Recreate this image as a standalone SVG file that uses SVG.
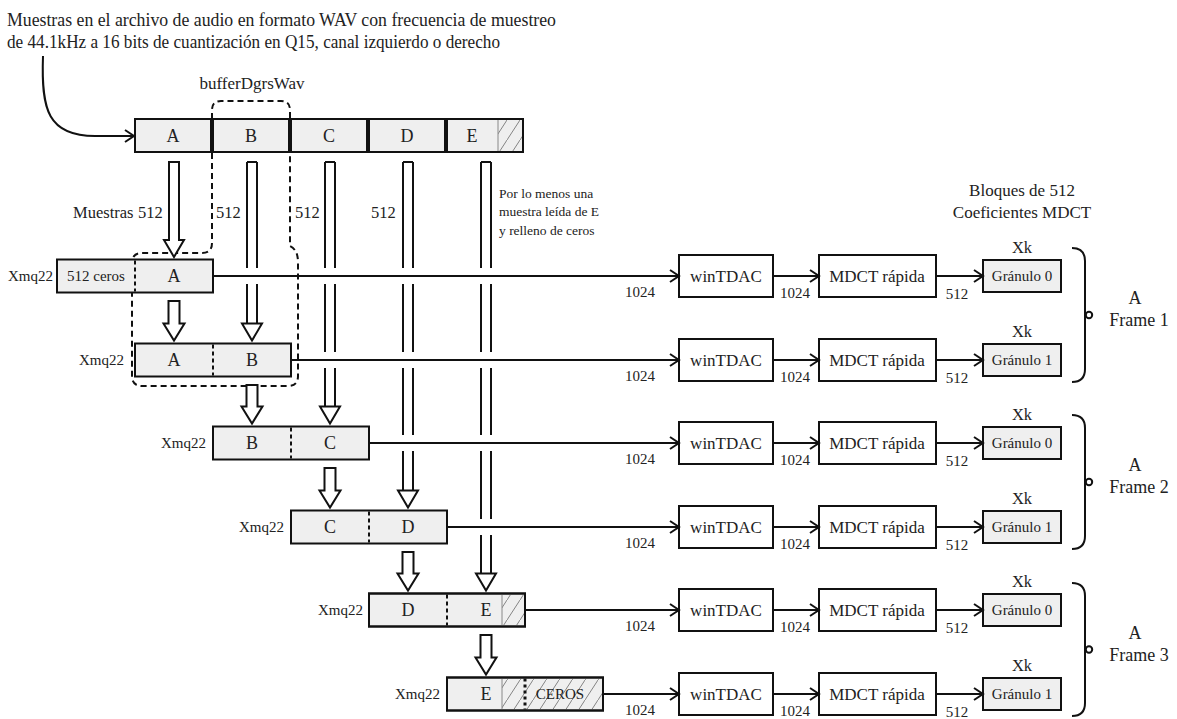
<svg xmlns="http://www.w3.org/2000/svg" width="1177" height="719" viewBox="0 0 1177 719">
<defs>
<marker id="chev" markerWidth="12" markerHeight="14" refX="10" refY="7" orient="auto" markerUnits="userSpaceOnUse">
<path d="M1,1 L10,7 L1,13" fill="none" stroke="#111" stroke-width="2"/>
</marker>
<pattern id="hatch" patternUnits="userSpaceOnUse" width="13" height="20">
<line x1="0" y1="20" x2="13" y2="0" stroke="#777" stroke-width="0.9"/>
</pattern>
<style>
text{font-family:"Liberation Serif","Times New Roman",serif;fill:#222}
.box{fill:#efefef;stroke:#111;stroke-width:2}
.wbox{fill:#fff;stroke:#111;stroke-width:2}
.hz{fill:url(#hatch);stroke:none}
.hl{stroke:#888;stroke-width:1}
.div{stroke:#111;stroke-width:2;stroke-dasharray:4 3}
.divb{stroke:#111;stroke-width:3;stroke-dasharray:3 3}
.ln{fill:none;stroke:#111;stroke-width:2}
.conn{fill:none;stroke:#111;stroke-width:2;marker-end:url(#chev)}
.hol{fill:#fff;stroke:#111;stroke-width:2}
.stem{fill:none;stroke:#111;stroke-width:2}
.dash{fill:none;stroke:#111;stroke-width:2;stroke-dasharray:6 4}
.c{text-anchor:middle}
.e{text-anchor:end}
.f18{font-size:18px}
.f17{font-size:17px}
.f16{font-size:16.5px}
.f15{font-size:15px}
.f13{font-size:13.5px}
</style>
</defs>

<g id="title">
<text x="7" y="26" class="f18" textLength="549" lengthAdjust="spacingAndGlyphs">Muestras en el archivo de audio en formato WAV con frecuencia de muestreo</text>
<text x="7" y="48" class="f18" textLength="493" lengthAdjust="spacingAndGlyphs">de 44.1kHz a 16 bits de cuantización en Q15, canal izquierdo o derecho</text>
</g>

<g id="buffer-window">
<text x="252" y="89" class="f17 c">bufferDgrsWav</text>
<path class="dash" d="M212 119 V110 Q212 101 221 101 H281 Q290 101 290 110 V119"/>
<path class="dash" d="M212 153 V243 Q212 253 202 253 H142 Q132 253 132 263 V376 Q132 386 142 386 H288 Q298 386 298 376 V262 Q298 250 290 246 V153"/>
</g>

<g id="labels-512">
<text x="73" y="218" class="f16">Muestras</text>
<text x="138" y="218" class="f16">512</text>
<text x="216" y="218" class="f16">512</text>
<text x="295" y="218" class="f16">512</text>
<text x="371" y="218" class="f16">512</text>
<text x="499" y="198" class="f13">Por lo menos una</text>
<text x="499" y="216" class="f13">muestra leída de E</text>
<text x="499" y="235" class="f13">y relleno de ceros</text>
</g>

<g id="wav-A"><rect class="box" x="135" y="119" width="76" height="33"/><text x="173" y="142" class="f18 c">A</text></g>
<g id="wav-B"><rect class="box" x="213" y="119" width="76" height="33"/><text x="251" y="142" class="f18 c">B</text></g>
<g id="wav-C"><rect class="box" x="291" y="119" width="76" height="33"/><text x="329" y="142" class="f18 c">C</text></g>
<g id="wav-D"><rect class="box" x="369" y="119" width="76" height="33"/><text x="407" y="142" class="f18 c">D</text></g>
<g id="wav-E"><rect class="box" x="447" y="119" width="76" height="33"/><rect class="hz" x="498" y="120" width="24" height="31"/><line class="hl" x1="498" y1="120" x2="498" y2="151"/><rect x="447" y="119" width="76" height="33" fill="none" stroke="#111" stroke-width="2"/><text x="472" y="142" class="f18 c">E</text></g>

<g id="xmq-1">
<text x="53" y="281" class="f15 e">Xmq22</text>
<rect class="box" x="57" y="259.5" width="156" height="33"/>
<line class="div" x1="135" y1="260.5" x2="135" y2="291.5"/>
<text x="96" y="281" class="f15 c">512 ceros</text>
<text x="174" y="282" class="f18 c">A</text>
</g>
<g id="xmq-2">
<text x="124" y="365" class="f15 e">Xmq22</text>
<rect class="box" x="135" y="343.5" width="156" height="33"/>
<line class="div" x1="213" y1="344.5" x2="213" y2="375.5"/>
<text x="174" y="366" class="f18 c">A</text>
<text x="252" y="366" class="f18 c">B</text>
</g>
<g id="xmq-3">
<text x="206" y="448" class="f15 e">Xmq22</text>
<rect class="box" x="213" y="426.5" width="156" height="33"/>
<line class="div" x1="291" y1="427.5" x2="291" y2="458.5"/>
<text x="252" y="449" class="f18 c">B</text>
<text x="330" y="449" class="f18 c">C</text>
</g>
<g id="xmq-4">
<text x="284" y="532" class="f15 e">Xmq22</text>
<rect class="box" x="291" y="510.5" width="156" height="33"/>
<line class="div" x1="369" y1="511.5" x2="369" y2="542.5"/>
<text x="330" y="533" class="f18 c">C</text>
<text x="408" y="533" class="f18 c">D</text>
</g>
<g id="xmq-5">
<text x="363" y="615" class="f15 e">Xmq22</text>
<rect class="box" x="369" y="593.5" width="156" height="33"/>
<rect class="hz" x="502" y="594.5" width="22" height="31"/>
<line class="hl" x1="502" y1="594.5" x2="502" y2="625.5"/>
<rect x="369" y="593.5" width="156" height="33" fill="none" stroke="#111" stroke-width="2"/>
<line class="div" x1="447" y1="594.5" x2="447" y2="625.5"/>
<text x="408" y="616" class="f18 c">D</text>
<text x="486" y="616" class="f18 c">E</text>
</g>
<g id="xmq-6">
<text x="440" y="699" class="f15 e">Xmq22</text>
<rect class="box" x="447" y="677.5" width="156" height="33"/>
<rect class="hz" x="502" y="678.5" width="100" height="31"/>
<line class="hl" x1="502" y1="678.5" x2="502" y2="709.5"/>
<rect x="447" y="677.5" width="156" height="33" fill="none" stroke="#111" stroke-width="2"/>
<line class="divb" x1="525" y1="678.5" x2="525" y2="709.5"/>
<text x="486" y="700" class="f18 c">E</text>
<text x="560" y="699" class="f15 c">CEROS</text>
</g>

<g id="header-right">
<text x="1022" y="196" class="f17 c">Bloques de 512</text>
<text x="1022" y="218" class="f17 c">Coeficientes MDCT</text>
</g>

<g id="win-1"><rect class="wbox" x="679" y="255" width="94" height="42"/><text x="726" y="282" class="f17 c">winTDAC</text></g>
<g id="win-2"><rect class="wbox" x="679" y="339" width="94" height="42"/><text x="726" y="366" class="f17 c">winTDAC</text></g>
<g id="win-3"><rect class="wbox" x="679" y="422" width="94" height="42"/><text x="726" y="449" class="f17 c">winTDAC</text></g>
<g id="win-4"><rect class="wbox" x="679" y="506" width="94" height="42"/><text x="726" y="533" class="f17 c">winTDAC</text></g>
<g id="win-5"><rect class="wbox" x="679" y="589" width="94" height="42"/><text x="726" y="616" class="f17 c">winTDAC</text></g>
<g id="win-6"><rect class="wbox" x="679" y="673" width="94" height="42"/><text x="726" y="700" class="f17 c">winTDAC</text></g>

<g id="mdct-1"><rect class="wbox" x="819" y="255" width="117" height="42"/><text x="877" y="282" class="f17 c">MDCT rápida</text></g>
<g id="mdct-2"><rect class="wbox" x="819" y="339" width="117" height="42"/><text x="877" y="366" class="f17 c">MDCT rápida</text></g>
<g id="mdct-3"><rect class="wbox" x="819" y="422" width="117" height="42"/><text x="877" y="449" class="f17 c">MDCT rápida</text></g>
<g id="mdct-4"><rect class="wbox" x="819" y="506" width="117" height="42"/><text x="877" y="533" class="f17 c">MDCT rápida</text></g>
<g id="mdct-5"><rect class="wbox" x="819" y="589" width="117" height="42"/><text x="877" y="616" class="f17 c">MDCT rápida</text></g>
<g id="mdct-6"><rect class="wbox" x="819" y="673" width="117" height="42"/><text x="877" y="700" class="f17 c">MDCT rápida</text></g>

<g id="gran-1"><text x="1022" y="253" class="f16 c">Xk</text><rect class="box" x="983" y="260" width="78" height="32"/><text x="1022" y="281" class="f15 c">Gránulo 0</text></g>
<g id="gran-2"><text x="1022" y="337" class="f16 c">Xk</text><rect class="box" x="983" y="344" width="78" height="32"/><text x="1022" y="365" class="f15 c">Gránulo 1</text></g>
<g id="gran-3"><text x="1022" y="420" class="f16 c">Xk</text><rect class="box" x="983" y="427" width="78" height="32"/><text x="1022" y="448" class="f15 c">Gránulo 0</text></g>
<g id="gran-4"><text x="1022" y="504" class="f16 c">Xk</text><rect class="box" x="983" y="511" width="78" height="32"/><text x="1022" y="532" class="f15 c">Gránulo 1</text></g>
<g id="gran-5"><text x="1022" y="587" class="f16 c">Xk</text><rect class="box" x="983" y="594" width="78" height="32"/><text x="1022" y="615" class="f15 c">Gránulo 0</text></g>
<g id="gran-6"><text x="1022" y="671" class="f16 c">Xk</text><rect class="box" x="983" y="678" width="78" height="32"/><text x="1022" y="699" class="f15 c">Gránulo 1</text></g>

<g id="frame-1">
<path class="ln" d="M1072 248 Q1085 248 1085 261 V369 Q1085 382 1072 382"/>
<circle cx="1089" cy="315" r="3.2" fill="#fff" stroke="#111" stroke-width="2"/>
<text x="1135" y="304" class="f18 c">A</text>
<text x="1139" y="326" class="f18 c">Frame 1</text>
</g>
<g id="frame-2">
<path class="ln" d="M1072 415 Q1085 415 1085 428 V536 Q1085 549 1072 549"/>
<circle cx="1089" cy="482" r="3.2" fill="#fff" stroke="#111" stroke-width="2"/>
<text x="1135" y="471" class="f18 c">A</text>
<text x="1139" y="493" class="f18 c">Frame 2</text>
</g>
<g id="frame-3">
<path class="ln" d="M1072 583 Q1085 583 1085 596 V703 Q1085 716 1072 716"/>
<circle cx="1089" cy="649.5" r="3.2" fill="#fff" stroke="#111" stroke-width="2"/>
<text x="1135" y="638.5" class="f18 c">A</text>
<text x="1139" y="660.5" class="f18 c">Frame 3</text>
</g>

<g id="connectors">
<path class="conn" d="M43 56 C41 110 48 136 95 136 L134 136"/>

<polygon class="hol" points="169,162 179,162 179,240 184,240 174,257 164,240 169,240"/>
<path class="stem" d="M247 162 H257 M247 162 V268 M257 162 V268 M247 284 V323.5 M257 284 V323.5"/>
<polygon class="hol" points="247,323.5 242,323.5 252,340.5 262,323.5 257,323.5"/>
<path class="stem" d="M325 162 H335 M325 162 V268 M335 162 V268 M325 284 V352 M335 284 V352 M325 368 V406.5 M335 368 V406.5"/>
<polygon class="hol" points="325,406.5 320,406.5 330,423.5 340,406.5 335,406.5"/>
<path class="stem" d="M403 162 H413 M403 162 V268 M413 162 V268 M403 284 V352 M413 284 V352 M403 368 V435 M413 368 V435 M403 451 V490.5 M413 451 V490.5"/>
<polygon class="hol" points="403,490.5 398,490.5 408,507.5 418,490.5 413,490.5"/>
<path class="stem" d="M481 162 H491 M481 162 V268 M491 162 V268 M481 284 V352 M491 284 V352 M481 368 V435 M491 368 V435 M481 451 V519 M491 451 V519 M481 535 V573.5 M491 535 V573.5"/>
<polygon class="hol" points="481,573.5 476,573.5 486,590.5 496,573.5 491,573.5"/>

<polygon class="hol" points="168.5,301 179.5,301 179.5,323.5 184.5,323.5 174,340.5 163.5,323.5 168.5,323.5"/>
<polygon class="hol" points="246.5,385 257.5,385 257.5,406.5 262.5,406.5 252,423.5 241.5,406.5 246.5,406.5"/>
<polygon class="hol" points="324.5,468 335.5,468 335.5,490.5 340.5,490.5 330,507.5 319.5,490.5 324.5,490.5"/>
<polygon class="hol" points="402.5,552 413.5,552 413.5,573.5 418.5,573.5 408,590.5 397.5,573.5 402.5,573.5"/>
<polygon class="hol" points="480.5,635 491.5,635 491.5,657.5 496.5,657.5 486,674.5 475.5,657.5 480.5,657.5"/>

<path class="conn" d="M213 276 H679"/>
<path class="conn" d="M291 360 H679"/>
<path class="conn" d="M369 443 H679"/>
<path class="conn" d="M447 527 H679"/>
<path class="conn" d="M525 610 H679"/>
<path class="conn" d="M603 694 H679"/>

<path class="conn" d="M773 276 H819"/>
<path class="conn" d="M773 360 H819"/>
<path class="conn" d="M773 443 H819"/>
<path class="conn" d="M773 527 H819"/>
<path class="conn" d="M773 610 H819"/>
<path class="conn" d="M773 694 H819"/>

<path class="conn" d="M936 276 H983"/>
<path class="conn" d="M936 360 H983"/>
<path class="conn" d="M936 443 H983"/>
<path class="conn" d="M936 527 H983"/>
<path class="conn" d="M936 610 H983"/>
<path class="conn" d="M936 694 H983"/>

<g class="f15">
<text x="640" y="297" class="c">1024</text><text x="795" y="298" class="c">1024</text><text x="957" y="299" class="c">512</text>
<text x="640" y="381" class="c">1024</text><text x="795" y="382" class="c">1024</text><text x="957" y="383" class="c">512</text>
<text x="640" y="464" class="c">1024</text><text x="795" y="465" class="c">1024</text><text x="957" y="466" class="c">512</text>
<text x="640" y="548" class="c">1024</text><text x="795" y="549" class="c">1024</text><text x="957" y="550" class="c">512</text>
<text x="640" y="631" class="c">1024</text><text x="795" y="632" class="c">1024</text><text x="957" y="633" class="c">512</text>
<text x="640" y="715" class="c">1024</text><text x="795" y="716" class="c">1024</text><text x="957" y="717" class="c">512</text>
</g>
</g>
</svg>
